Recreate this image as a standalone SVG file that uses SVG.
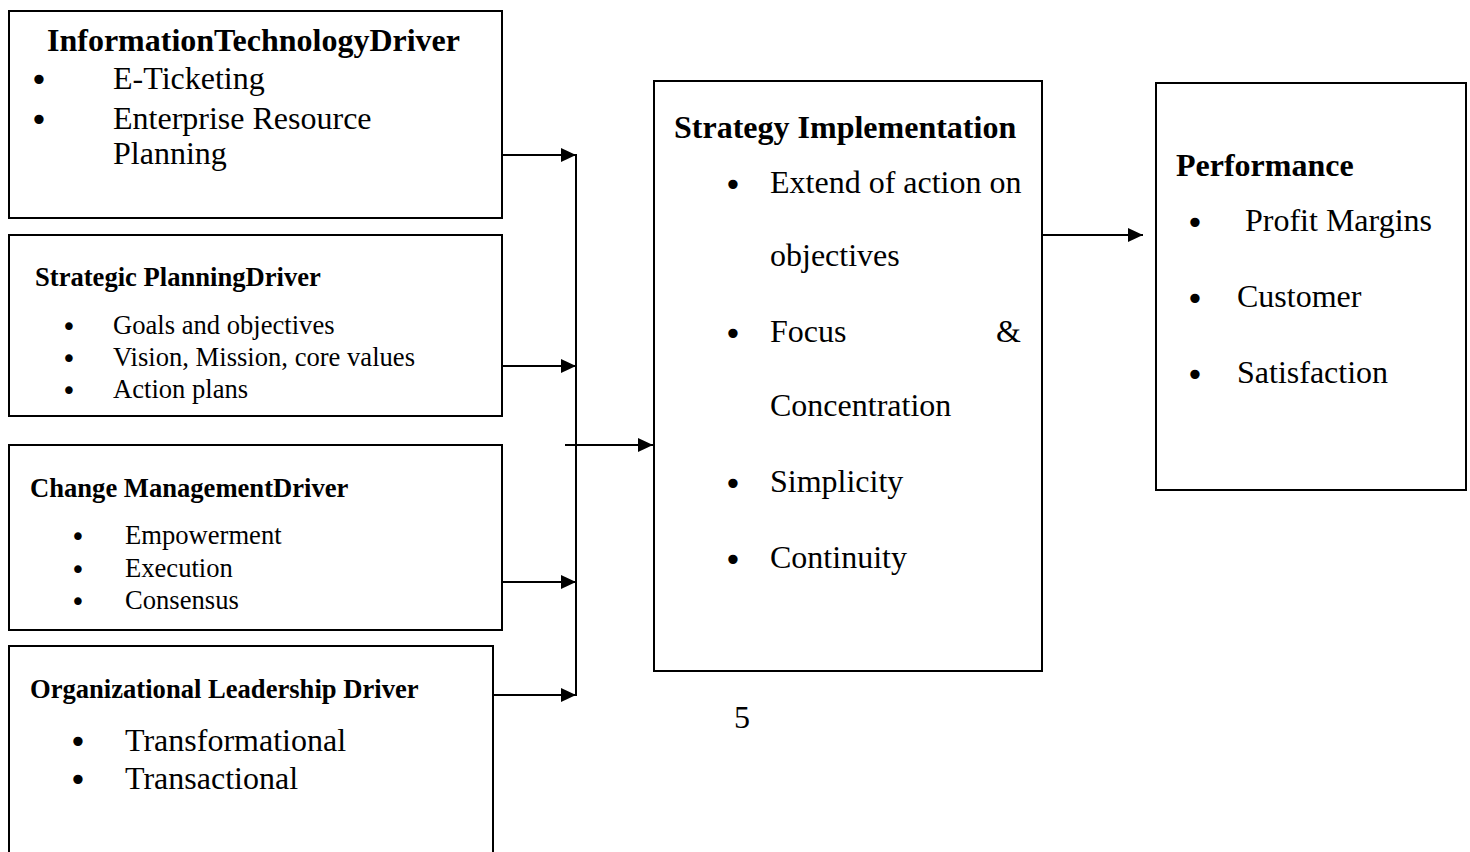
<svg xmlns="http://www.w3.org/2000/svg" width="1470" height="852" viewBox="0 0 1470 852">
<defs>
<style>
.box{fill:#fff;stroke:#000;stroke-width:2}
.t{font-family:"Liberation Serif","Times New Roman",serif;fill:#000}
.b{font-weight:bold}
.L{font-size:32px}
.S{font-size:26.6px}
.bl{font-family:"DejaVu Sans",sans-serif;fill:#000;text-anchor:middle;font-size:32px}
.bs{font-family:"DejaVu Sans",sans-serif;fill:#000;text-anchor:middle;font-size:26px}
.con{stroke:#000;stroke-width:2;fill:none}
</style>
<marker id="ah" markerUnits="userSpaceOnUse" markerWidth="16" markerHeight="14" refX="15" refY="7" orient="auto">
<path d="M0,0 L15,7 L0,14 z" fill="#000"/>
</marker>
</defs>
<rect width="1470" height="852" fill="#fff"/>

<g id="it-driver">
<rect class="box" x="9" y="11" width="493" height="207"/>
<text class="t b L" x="47" y="51">InformationTechnologyDriver</text>
<text class="bl" x="39" y="90.5">•</text>
<text class="t L" x="113" y="89">E-Ticketing</text>
<text class="bl" x="39" y="130.5">•</text>
<text class="t L" x="113" y="129">Enterprise Resource</text>
<text class="t L" x="113" y="164">Planning</text>
</g>

<g id="sp-driver">
<rect class="box" x="9" y="235" width="493" height="181"/>
<text class="t b S" x="35" y="286">Strategic PlanningDriver</text>
<text class="bs" x="69" y="335.5">•</text>
<text class="t S" x="113" y="334">Goals and objectives</text>
<text class="bs" x="69" y="367.5">•</text>
<text class="t S" x="113" y="366">Vision, Mission, core values</text>
<text class="bs" x="69" y="399.5">•</text>
<text class="t S" x="113" y="398">Action plans</text>
</g>

<g id="cm-driver">
<rect class="box" x="9" y="445" width="493" height="185"/>
<text class="t b S" x="30" y="497">Change ManagementDriver</text>
<text class="bs" x="78" y="545.5">•</text>
<text class="t S" x="125" y="544">Empowerment</text>
<text class="bs" x="78" y="578.5">•</text>
<text class="t S" x="125" y="577">Execution</text>
<text class="bs" x="78" y="610.5">•</text>
<text class="t S" x="125" y="609">Consensus</text>
</g>

<g id="ol-driver">
<rect class="box" x="9" y="646" width="484" height="220"/>
<text class="t b S" x="30" y="698">Organizational Leadership Driver</text>
<text class="bl" x="78" y="752.5">•</text>
<text class="t L" x="125" y="751">Transformational</text>
<text class="bl" x="78" y="790.5">•</text>
<text class="t L" x="125" y="789">Transactional</text>
</g>

<g id="strategy">
<rect class="box" x="654" y="81" width="388" height="590"/>
<text class="t b L" x="674" y="138">Strategy Implementation</text>
<text class="bl" x="733" y="195.5">•</text>
<text class="t L" x="770" y="193">Extend of action on</text>
<text class="t L" x="770" y="266">objectives</text>
<text class="bl" x="733" y="344.5">•</text>
<text class="t L" x="770" y="342">Focus</text>
<text class="t L" x="1021" y="342" text-anchor="end">&amp;</text>
<text class="t L" x="770" y="416">Concentration</text>
<text class="bl" x="733" y="494.5">•</text>
<text class="t L" x="770" y="492">Simplicity</text>
<text class="bl" x="733" y="570.5">•</text>
<text class="t L" x="770" y="568">Continuity</text>
</g>

<g id="performance">
<rect class="box" x="1156" y="83" width="310" height="407"/>
<text class="t b L" x="1176" y="176">Performance</text>
<text class="bl" x="1195" y="233.5">•</text>
<text class="t L" x="1245" y="231">Profit Margins</text>
<text class="bl" x="1195" y="309.5">•</text>
<text class="t L" x="1237" y="307">Customer</text>
<text class="bl" x="1195" y="385.5">•</text>
<text class="t L" x="1237" y="383">Satisfaction</text>
</g>

<g id="page-number">
<text class="t L" x="734" y="728">5</text>
</g>

<g id="connectors">
<line class="con" x1="576" y1="154" x2="576" y2="696"/>
<line class="con" x1="502" y1="155" x2="576" y2="155" marker-end="url(#ah)"/>
<line class="con" x1="502" y1="366" x2="576" y2="366" marker-end="url(#ah)"/>
<line class="con" x1="502" y1="582" x2="576" y2="582" marker-end="url(#ah)"/>
<line class="con" x1="493" y1="695" x2="576" y2="695" marker-end="url(#ah)"/>
<line class="con" x1="565" y1="445" x2="653" y2="445" marker-end="url(#ah)"/>
<line class="con" x1="1042" y1="235" x2="1143" y2="235" marker-end="url(#ah)"/>
</g>
</svg>
